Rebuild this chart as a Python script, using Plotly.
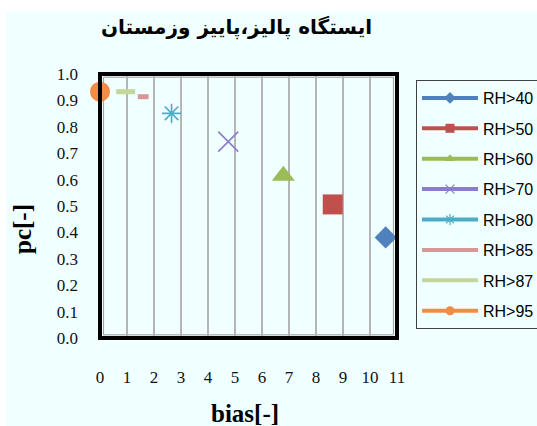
import plotly.graph_objects as go

# Series values (bias, pc) for each relative-humidity threshold
series_names = ["RH>40", "RH>50", "RH>60", "RH>70", "RH>80", "RH>85", "RH>87", "RH>95"]
bias_rh40 = [10.58]
pc_rh40 = [0.381]
bias_rh50 = [8.62]
pc_rh50 = [0.506]
bias_rh60 = [6.79]
pc_rh60 = [0.615]
bias_rh70 = [4.75]
pc_rh70 = [0.744]
bias_rh80 = [2.65]
pc_rh80 = [0.851]
bias_rh85 = [1.4, 1.8]
pc_rh85 = [0.914, 0.914]
bias_rh87 = [0.6, 1.3]
pc_rh87 = [0.933, 0.933]
bias_rh95 = [0.0]
pc_rh95 = [0.933]

x_ticks = list(range(0, 12))
y_ticks = [round(i * 0.1, 1) for i in range(0, 11)]

title_text = "ایستگاه پالیز،پاییز وزمستان"
x_title = "bias[-]"
y_title = "pc[-]"

BG = "#F0FFFF"

styles = {
    "RH>40": dict(color="#4F81BD", symbol="diamond", size=17, mode="markers"),
    "RH>50": dict(color="#C0504D", symbol="square", size=20, mode="markers"),
    "RH>60": dict(color="#9BBB59", symbol="triangle-up", size=20, mode="markers"),
    "RH>70": dict(color="#8C7DC8", symbol="x-thin", size=20, mode="markers"),
    "RH>80": dict(color="#4BACC6", symbol="asterisk", size=16, mode="markers"),
    "RH>85": dict(color="#D99694", symbol=None, size=0, mode="lines"),
    "RH>87": dict(color="#C3D69B", symbol=None, size=0, mode="lines"),
    "RH>95": dict(color="#F08C45", symbol="circle", size=20, mode="markers"),
}
legend_symbols = {
    "RH>40": "diamond", "RH>50": "square", "RH>60": "triangle-up",
    "RH>70": "x-thin", "RH>80": "asterisk", "RH>85": None, "RH>87": None,
    "RH>95": "circle",
}

data = {
    "RH>40": (bias_rh40, pc_rh40),
    "RH>50": (bias_rh50, pc_rh50),
    "RH>60": (bias_rh60, pc_rh60),
    "RH>70": (bias_rh70, pc_rh70),
    "RH>80": (bias_rh80, pc_rh80),
    "RH>85": (bias_rh85, pc_rh85),
    "RH>87": (bias_rh87, pc_rh87),
    "RH>95": (bias_rh95, pc_rh95),
}

fig = go.Figure()

# Data marks
for name in series_names:
    st = styles[name]
    xs, ys = data[name]
    if st["mode"] == "lines":
        fig.add_trace(go.Scatter(
            x=xs, y=ys, mode="lines", showlegend=False, cliponaxis=False,
            line=dict(color=st["color"], width=5), hoverinfo="skip"))
    else:
        thin = st["symbol"] in ("x-thin", "asterisk")
        fig.add_trace(go.Scatter(
            x=xs, y=ys, mode="markers", showlegend=False, cliponaxis=False,
            marker=dict(color=st["color"], symbol=st["symbol"], size=st["size"],
                        line=dict(color=st["color"], width=1.6 if thin else 0))))

# Legend entries: line with a small marker
for i, name in enumerate(series_names):
    st = styles[name]
    sym = legend_symbols[name]
    kw = dict(x=[None], y=[None], name=name, legendgroup=f"g{i}",
              line=dict(color=st["color"], width=4))
    if sym is None:
        kw["mode"] = "lines"
    else:
        thin = sym in ("x-thin", "asterisk")
        kw["mode"] = "lines+markers"
        kw["marker"] = dict(color=st["color"], symbol=sym, size=9,
                            line=dict(color=st["color"], width=1.2 if thin else 0))
    fig.add_trace(go.Scatter(**kw))

fig.update_layout(
    width=537, height=426,
    margin=dict(l=100, r=140, t=74, b=88, autoexpand=False),
    paper_bgcolor=BG, plot_bgcolor=BG,
    showlegend=True,
    legend=dict(
        x=(416 - 100) / 297, y=1 + (74 - 80) / 264, xanchor="left", yanchor="top",
        bgcolor=BG, bordercolor="#404040", borderwidth=1,
        font=dict(family="Liberation Sans", size=16, color="#000000"),
        tracegroupgap=6.6, itemwidth=56, entrywidth=160, entrywidthmode="pixels",
    ),
    xaxis=dict(
        range=[0, 11], tickmode="array", tickvals=x_ticks,
        ticktext=[str(v) for v in x_ticks],
        showgrid=True, gridcolor="#B5B5B5", gridwidth=1.5,
        zeroline=False, showline=False, ticks="",
        ticklabelstandoff=27,
        tickfont=dict(family="Liberation Serif", size=17, color="#111111"),
    ),
    yaxis=dict(
        range=[0, 1], tickmode="array", tickvals=y_ticks,
        ticktext=[f"{v:.1f}" for v in y_ticks],
        showgrid=False, zeroline=False, showline=False, ticks="",
        ticklabelstandoff=21,
        tickfont=dict(family="Liberation Serif", size=17, color="#111111"),
    ),
    shapes=[
        # white strips along the top and left edge of the page
        dict(type="rect", xref="paper", yref="paper", x0=-0.4, x1=1.6,
             y0=1 + (74 - 12) / 264, y1=1.4, fillcolor="#FFFFFF",
             line=dict(width=0), layer="below"),
        dict(type="rect", xref="paper", yref="paper", x0=-0.4, x1=-0.3165,
             y0=-0.5, y1=1.4, fillcolor="#FFFFFF", line=dict(width=0),
             layer="below"),
        # plot frame
        dict(type="rect", xref="paper", yref="paper", x0=0, x1=1, y0=0, y1=1,
             line=dict(color="#000000", width=4), layer="above"),
        dict(type="rect", xref="paper", yref="paper", x0=0.012, x1=0.988,
             y0=0.012, y1=0.988, line=dict(color="#9A9A9A", width=1),
             layer="below"),
    ],
    annotations=[
        dict(text=f"<b>{title_text}</b>", xref="paper", yref="paper",
             x=(236 - 100) / 297, y=1 + (74 - 28) / 264, xanchor="center",
             yanchor="middle", showarrow=False,
             font=dict(family="DejaVu Sans", size=20, color="#000000")),
        dict(text=f"<b>{x_title}</b>", xref="paper", yref="paper",
             x=(245 - 100) / 297, y=-(413 - 338) / 264, xanchor="center",
             yanchor="middle", showarrow=False,
             font=dict(family="Liberation Serif", size=25, color="#000000")),
        dict(text=f"<b>{y_title}</b>", xref="paper", yref="paper",
             x=-(100 - 22) / 297, y=(338 - 229) / 264, xanchor="center",
             yanchor="middle", showarrow=False, textangle=-90,
             font=dict(family="Liberation Serif", size=25, color="#000000")),
    ],
)

fig.write_html("out.html")
